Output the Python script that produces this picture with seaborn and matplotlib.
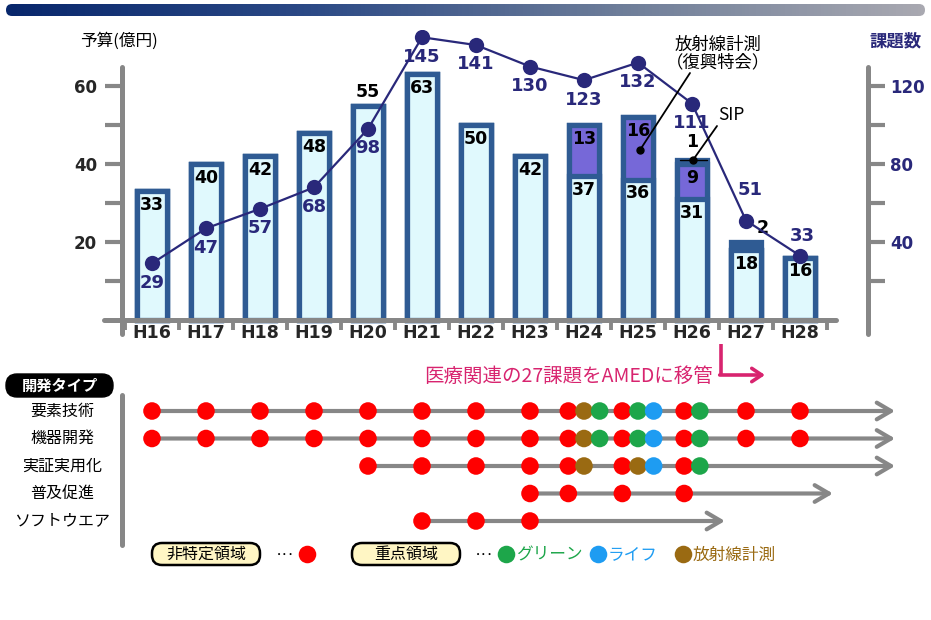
import numpy as np
import pandas as pd
import matplotlib
matplotlib.use('Agg')
import matplotlib.pyplot as plt
import seaborn as sns
from matplotlib.patches import FancyBboxPatch
from matplotlib.colors import LinearSegmentedColormap

# ---------------- data ----------------
years = ['H16', 'H17', 'H18', 'H19', 'H20', 'H21', 'H22', 'H23', 'H24', 'H25', 'H26', 'H27', 'H28']
budget_base = [33, 40, 42, 48, 55, 63, 50, 42, 37, 36, 31, 18, 16]
budget_fukko = [0, 0, 0, 0, 0, 0, 0, 0, 13, 16, 9, 0, 0]      # 放射線計測（復興特会）
budget_sip = [0, 0, 0, 0, 0, 0, 0, 0, 0, 0, 1, 2, 0]          # SIP
themes = [29, 47, 57, 68, 98, 145, 141, 130, 123, 132, 111, 51, 33]  # 課題数

dev_types = ['要素技術', '機器開発', '実証実用化', '普及促進', 'ソフトウエア']
# codes: R=非特定領域, B=放射線計測, G=グリーン, L=ライフ
dots_youso = ['R', 'R', 'R', 'R', 'R', 'R', 'R', 'R', 'RBG', 'RGL', 'RG', 'R', 'R']
dots_kiki = ['R', 'R', 'R', 'R', 'R', 'R', 'R', 'R', 'RBG', 'RGL', 'RG', 'R', 'R']
dots_jissho = ['', '', '', '', 'R', 'R', 'R', 'R', 'RB', 'RBL', 'RG', '', '']
dots_fukyu = ['', '', '', '', '', '', '', 'R', 'R', 'R', 'R', '', '']
dots_soft = ['', '', '', '', '', 'R', 'R', 'R', '', '', '', '', '']
code_names = {'R': '非特定領域', 'B': '放射線計測', 'G': 'グリーン', 'L': 'ライフ'}
timeline_end = [13.76, 13.76, 13.76, 12.61, 10.61]

# ---------------- style ----------------
EDGE = '#2f5b93'
FILL = '#e0f9fd'
PURPLE = '#7668d8'
NAVY = '#29287a'
GRAY = '#878787'
PINK = '#d8246f'
RED = '#ff0000'
GREEN = '#1da64a'
BLUE = '#1e9cf2'
BROWN = '#9a6a12'
kind_colors = {'非特定領域': RED, '放射線計測': BROWN, 'グリーン': GREEN, 'ライフ': BLUE}
JP = ['Noto Sans CJK JP', 'DejaVu Sans']

sns.set_theme(style='ticks')
plt.rcParams['font.family'] = ['DejaVu Sans', 'Noto Sans CJK JP']
plt.rcParams['axes.unicode_minus'] = False

W, H = 931, 620
fig = plt.figure(figsize=(W / 100, H / 100), dpi=100)
fig.patch.set_facecolor('white')


def fx(px):
    return px / W


def fy(py):
    return 1 - py / H


X0, STEP = 152, 54.0


def xdata(px):
    return (px - X0) / STEP


PPU = 3.9  # px per budget unit
ylo = -(334 - 320) / PPU
yhi = (320 - 30) / PPU

# ---------------- top chart ----------------
ax = fig.add_axes([fx(100), fy(334), fx(868) - fx(100), fy(30) - fy(334)])
ax.patch.set_visible(False)

df = pd.DataFrame({'year': years, 'base': budget_base,
                   'fukko': budget_fukko, 'sip': budget_sip})
df['mid'] = df['base'] + df['fukko']
df['total'] = df['mid'] + df['sip']

for col, color in [('total', EDGE), ('mid', PURPLE), ('base', FILL)]:
    sns.barplot(data=df, x='year', y=col, order=years, color=color, saturation=1,
                width=0.56, edgecolor=EDGE, linewidth=3.8, errorbar=None, ax=ax)

ax.set_xlim(xdata(100), xdata(868))
ax.set_ylim(ylo, yhi)
ax.set_xlabel('')
ax.set_ylabel('')
for s in ['top', 'right']:
    ax.spines[s].set_visible(False)
ax.spines['left'].set_position(('data', xdata(122)))
ax.spines['left'].set_bounds(ylo, 65)
ax.spines['bottom'].set_position(('data', 0))
ax.spines['bottom'].set_bounds(xdata(104), xdata(836))
for s in ['left', 'bottom']:
    ax.spines[s].set_color(GRAY)
    ax.spines[s].set_linewidth(3.6)
    ax.spines[s].set_capstyle('round')

ax.set_yticks([20, 40, 60])
ax.set_yticks([10, 30, 50], minor=True)
ax.tick_params(axis='y', which='both', left=True, direction='out', length=12, width=3,
               color=GRAY, labelsize=12, pad=6)
ax.set_xticks(range(len(years)), years)
ax.set_xticks(np.arange(-0.5, len(years), 1.0), minor=True)
ax.tick_params(axis='x', which='major', length=0, labelsize=12.5, pad=3)
ax.tick_params(axis='x', which='minor', bottom=True, direction='out', length=7, width=2.8,
               color=GRAY)
for lbl in ax.get_yticklabels() + ax.get_xticklabels():
    lbl.set_fontweight('bold')

# bar value labels
for i, r in df.iterrows():
    if r['year'] == 'H20':
        ax.annotate(str(r['base']), (i, r['base']), xytext=(0, 10), textcoords='offset points',
                    ha='center', va='center', fontsize=12.5, fontweight='bold', color='black')
    else:
        ax.annotate(str(r['base']), (i, r['base']), xytext=(0, -10), textcoords='offset points',
                    ha='center', va='center', fontsize=12.5, fontweight='bold', color='black')
    if r['fukko'] > 0:
        ax.annotate(str(r['fukko']), (i, r['mid']), xytext=(0, -10), textcoords='offset points',
                    ha='center', va='center', fontsize=12.5, fontweight='bold', color='black')
    if r['sip'] > 0:
        off = (0, 13) if r['fukko'] > 0 else (12, 10)
        ax.annotate(str(r['sip']), (i, r['total']), xytext=off, textcoords='offset points',
                    ha='center', va='center', fontsize=12.5, fontweight='bold', color='black')

# line (課題数) on right axis
ax2 = ax.twinx()
ax2.set_ylim(2 * ylo, 2 * yhi)
pos = np.arange(len(years))
sns.lineplot(x=pos, y=themes, ax=ax2, color=NAVY, linewidth=1.6, marker='o',
             markersize=11, markeredgewidth=0, legend=False, sort=False)
ax2.set_xlim(xdata(100), xdata(868))
for s in ['top', 'left', 'bottom']:
    ax2.spines[s].set_visible(False)
ax2.spines['right'].set_bounds(2 * ylo, 130)
ax2.spines['right'].set_color(GRAY)
ax2.spines['right'].set_linewidth(3.6)
ax2.spines['right'].set_capstyle('round')
ax2.set_yticks([40, 80, 120])
ax2.set_yticks([20, 60, 100], minor=True)
ax2.tick_params(axis='y', which='both', right=True, direction='out', length=12, width=3,
                color=GRAY, labelsize=12, labelcolor=NAVY, pad=4)
for lbl in ax2.get_yticklabels():
    lbl.set_fontweight('bold')
ax2.set_ylabel('')

for i, v in enumerate(themes):
    if i == 11:
        off = (3, 22)
    elif i == 12:
        off = (2, 14)
    else:
        off = (0, -14)
    ax2.annotate(str(v), (i, v), xytext=off, textcoords='offset points', ha='center',
                 va='center', fontsize=13, fontweight='bold', color=NAVY)

# ---------------- bottom timeline ----------------
axb = fig.add_axes([fx(100), fy(545), fx(910) - fx(100), fy(395) - fy(545)])
axb.patch.set_visible(False)
rows = [dots_youso, dots_kiki, dots_jissho, dots_fukyu, dots_soft]
slots = [max(len(r[i]) for r in rows) for i in range(len(years))]
recs = []
for ri, seq in enumerate(rows):
    for yi, codes in enumerate(seq):
        for k, c in enumerate(codes):
            recs.append({'x': yi + (k - (slots[yi] - 1) / 2) * 0.29, 'row': ri,
                         'kind': code_names[c]})
dots = pd.DataFrame(recs)

for ri, seq in enumerate(rows):
    start = next(i for i, c in enumerate(seq) if c)
    axb.annotate('', xy=(timeline_end[ri], ri), xytext=(start, ri),
                 arrowprops=dict(arrowstyle='->,head_length=0.85,head_width=0.5', color=GRAY,
                                 lw=3, shrinkA=0, shrinkB=0), zorder=1)

sns.scatterplot(data=dots, x='x', y='row', hue='kind', palette=kind_colors, s=160,
                linewidth=0, legend=False, zorder=3, ax=axb)
axb.set_xlim(xdata(100), xdata(910))
axb.set_ylim((545 - 411) / 27.5, (395 - 411) / 27.5)
axb.set_xlabel('')
axb.set_ylabel('')
axb.set_xticks([])
axb.set_yticks([])
for ri, name in enumerate(dev_types):
    axb.text(xdata(62), ri, name, ha='center', va='center', fontsize=11.5, color='black',
             family=JP)
for s in ['top', 'right', 'bottom']:
    axb.spines[s].set_visible(False)
axb.spines['left'].set_position(('data', xdata(122)))
axb.spines['left'].set_color(GRAY)
axb.spines['left'].set_linewidth(3.6)
axb.spines['left'].set_capstyle('round')

# ---------------- overlay (titles, notes, legend) ----------------
ov = fig.add_axes([0, 0, 1, 1])
ov.set_xlim(0, W)
ov.set_ylim(H, 0)
ov.axis('off')
ov.patch.set_visible(False)

cmap = LinearSegmentedColormap.from_list('hdr', ['#08276c', '#2c4a86', '#6d7d99', '#a9a9b1'])
im = ov.imshow(np.linspace(0, 1, 256)[None, :], extent=[6, 925, 16, 4], aspect='auto',
               cmap=cmap)
clip = FancyBboxPatch((6, 4), 919, 12, boxstyle='round,pad=0,rounding_size=6',
                      transform=ov.transData, facecolor='none', edgecolor='none')
ov.add_patch(clip)
im.set_clip_path(clip)
ov.set_xlim(0, W)
ov.set_ylim(H, 0)

ov.text(119, 41, '予算(億円)', ha='center', va='center', fontsize=12, color='black',
        family=JP)
ov.text(896, 41, '課題数', ha='center', va='center', fontsize=12.5, color=NAVY,
        fontweight='bold', family=JP)

ov.text(718, 45, '放射線計測', ha='center', va='center', fontsize=12.5, color='black',
        family=JP)
ov.text(718, 62, '（復興特会）', ha='center', va='center', fontsize=12.5, color='black',
        family=JP)
ov.plot([690, 640], [73, 150], color='black', lw=1.3)
ov.plot([640], [150], 'o', color='black', ms=5)
ov.text(731, 115, 'SIP', ha='center', va='center', fontsize=12.5, color='black', family=JP)
ov.plot([717, 693], [126, 160], color='black', lw=1.3)
ov.plot([680, 707], [160, 160], color='black', lw=1.0)
ov.plot([693], [160], 'o', color='black', ms=5)

# AMED note
ov.text(713, 376, '医療関連の27課題をAMEDに移管', ha='right', va='center', fontsize=14,
        color=PINK, family=JP)
ov.plot([721, 721], [344, 376], color=PINK, lw=2.6, solid_capstyle='butt')
ov.annotate('', xy=(765, 375), xytext=(719.7, 375),
            arrowprops=dict(arrowstyle='->,head_length=0.6,head_width=0.4', color=PINK,
                            lw=2.6, shrinkA=0, shrinkB=0))

# 開発タイプ tag
ov.add_patch(FancyBboxPatch((6, 374), 107, 23, boxstyle='round,pad=0,rounding_size=11',
                            facecolor='black', edgecolor='black'))
ov.text(59.5, 385.5, '開発タイプ', ha='center', va='center', fontsize=11, color='white',
        fontweight='bold', family=JP)

# legend
for (x0, x1, label) in [(152, 260, '非特定領域'), (352, 460, '重点領域')]:
    ov.add_patch(FancyBboxPatch((x0, 543), x1 - x0, 22, boxstyle='round,pad=0,rounding_size=10',
                                facecolor='#fff6c4', edgecolor='black', lw=1.8))
    ov.text((x0 + x1) / 2, 554.5, label, ha='center', va='center', fontsize=11.5,
            color='black', family=JP)
ov.text(285, 555, '･･･', ha='center', va='center', fontsize=9, color='black', family=JP)
ov.text(484, 555, '･･･', ha='center', va='center', fontsize=9, color='black', family=JP)
for (xc, kind, label, tx) in [(307, '非特定領域', None, None), (506, 'グリーン', 'グリーン', 516),
                              (598, 'ライフ', 'ライフ', 608), (683, '放射線計測', '放射線計測', 693)]:
    ov.scatter([xc], [554], s=160, color=kind_colors[kind], linewidth=0)
    if label:
        ov.text(tx, 555, label, ha='left', va='center', fontsize=12, color=kind_colors[kind],
                family=JP)

fig.savefig('out.png', dpi=100, facecolor='white')
